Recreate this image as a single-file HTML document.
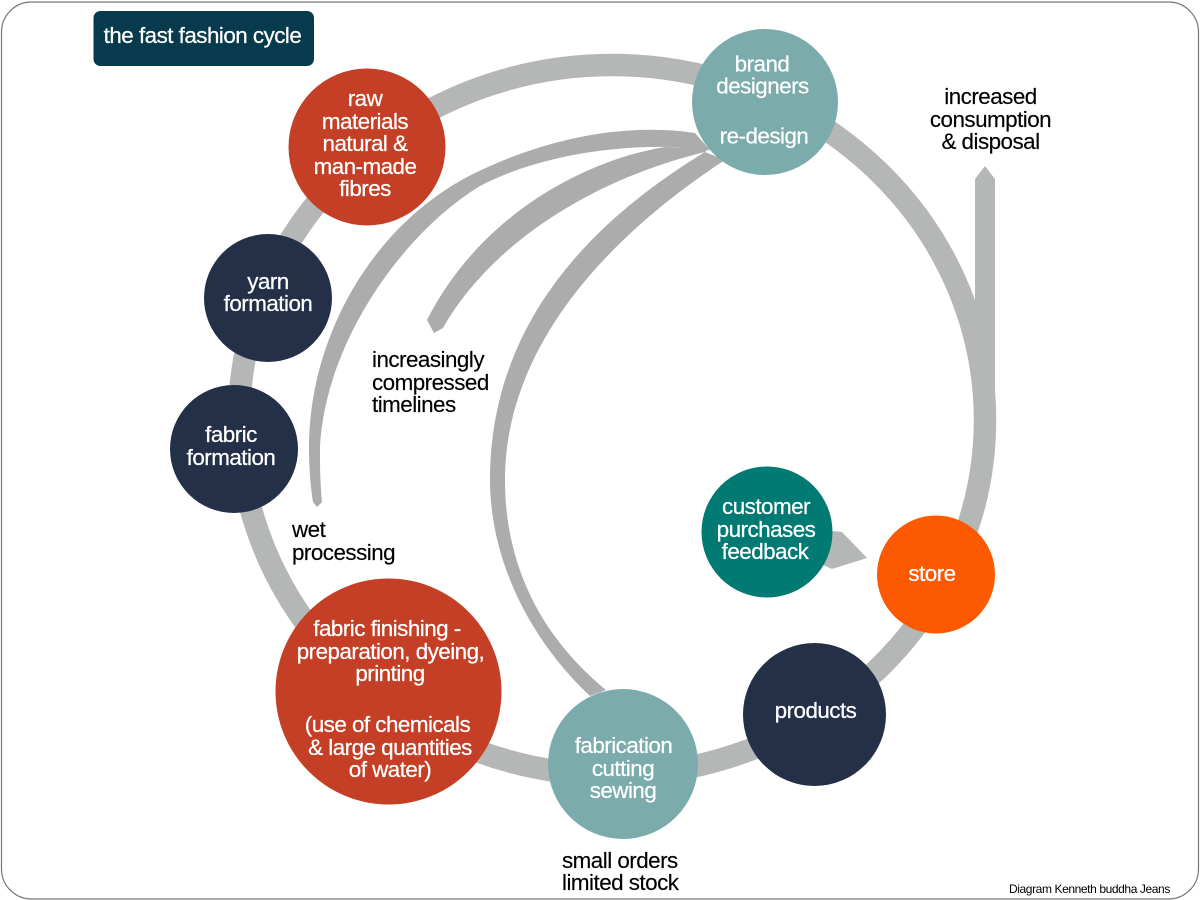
<!DOCTYPE html>
<html><head><meta charset="utf-8"><style>
html,body{margin:0;padding:0;background:#fff}
svg{display:block}
text{font-family:"Liberation Sans",sans-serif;font-size:22.4px;letter-spacing:-.52px}
.w{fill:#fff;stroke:#fff;stroke-width:.25px;text-anchor:middle}
.k{fill:#000;stroke:#000;stroke-width:.15px}
.c{text-anchor:middle}
</style></head><body>
<svg width="1200" height="900" viewBox="0 0 1200 900" xmlns="http://www.w3.org/2000/svg">
<rect x="0" y="0" width="1200" height="900" fill="#fff"/>
<rect x="1.500" y="2" width="1197" height="897" rx="30" ry="30" fill="#fff" stroke="#777" stroke-width="1.2"/>
<rect x="93.500" y="11" width="220.500" height="55" rx="7" fill="#063a4c"/>
<text class="w" x="202.500" y="43">the fast fashion cycle</text>

<ellipse cx="612" cy="420" rx="373" ry="355" fill="none" stroke="#b5b7b6" stroke-width="22.500"/>
<path d="M975 425V179L985 166L995 179V425Z" fill="#b5b7b6"/>
<path d="M833 531L842 532L867 558L832 569L823 565Z" fill="#b5b7b6"/>

<path d="M695 133C620 122 540 140 467 177C365 232 309 345 309 447C309 470 311 490 313 502L317 507L322 502C320 480 320 465 320 447C325 345 400 235 480 186C530 160 600 145 675 147L710 150Z" fill="#acacac"/>
<path d="M665 147C585 160 480 215 427 320L434 333L443 328C490 245 590 180 705 152L710 148Z" fill="#acacac"/>
<path d="M705 152C610 210 490 310 490 480C490 560 530 640 590 696L606 690C545 640 505 570 505 480C505 345 610 235 725 160Z" fill="#acacac"/>

<circle cx="765" cy="102" r="73" fill="#7babab"/>
<circle cx="367" cy="147" r="78.500" fill="#c43f26"/>
<circle cx="268" cy="298" r="64" fill="#233047"/>
<circle cx="234" cy="449" r="64" fill="#233047"/>
<circle cx="388.500" cy="691.500" r="113" fill="#c43f26"/>
<circle cx="623" cy="764" r="75" fill="#7babab"/>
<circle cx="814.500" cy="714.500" r="71.500" fill="#233047"/>
<circle cx="936" cy="574.500" r="59" fill="#fd5900"/>
<circle cx="767" cy="532" r="65.500" fill="#007a73"/>

<text class="w" x="762" y="71.500">brand</text>
<text class="w" x="762.500" y="93.500">designers</text>
<text class="w" x="764" y="143.500">re-design</text>

<text class="w" x="365" y="106">raw</text>
<text class="w" x="365" y="129">materials</text>
<text class="w" x="365" y="151">natural &amp;</text>
<text class="w" x="365" y="174">man-made</text>
<text class="w" x="365" y="196">fibres</text>

<text class="w" x="268" y="289">yarn</text>
<text class="w" x="268" y="311">formation</text>

<text class="w" x="231" y="442">fabric</text>
<text class="w" x="231" y="465">formation</text>

<text class="w" x="387" y="636">fabric finishing -</text>
<text class="w" x="390.500" y="659">preparation, dyeing,</text>
<text class="w" x="390" y="681">printing</text>
<text class="w" x="387.500" y="732">(use of chemicals</text>
<text class="w" x="390" y="755">&amp; large quantities</text>
<text class="w" x="390" y="777">of water)</text>

<text class="w" x="623.500" y="753">fabrication</text>
<text class="w" x="623" y="776">cutting</text>
<text class="w" x="623" y="798">sewing</text>

<text class="w" x="815.500" y="718">products</text>
<text class="w" x="932" y="581">store</text>

<text class="w" x="766" y="514">customer</text>
<text class="w" x="766" y="537">purchases</text>
<text class="w" x="765" y="559">feedback</text>

<text class="k c" x="990.500" y="104">increased</text>
<text class="k c" x="990.500" y="127">consumption</text>
<text class="k c" x="990.500" y="149">&amp; disposal</text>

<text class="k" x="372" y="367">increasingly</text>
<text class="k" x="372" y="390">compressed</text>
<text class="k" x="372" y="412">timelines</text>

<text class="k" x="292" y="537">wet</text>
<text class="k" x="292" y="560">processing</text>

<text class="k" x="562" y="868">small orders</text>
<text class="k" x="562" y="890">limited stock</text>

<text class="k" x="1009" y="893" style="font-size:12px;letter-spacing:-.4px;stroke-width:0">Diagram Kenneth buddha Jeans</text>
</svg>
</body></html>
